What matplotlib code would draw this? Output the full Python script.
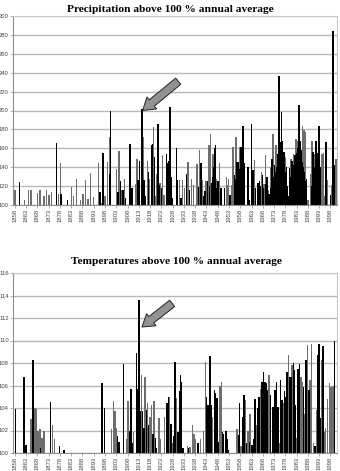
import matplotlib
matplotlib.use("Agg")
import matplotlib.pyplot as plt
import numpy as np

# ---------------- data ----------------
tick_years = list(range(1858, 1999, 5))

precip_gray_t = [1858.0, 1862.4, 1864.1, 1865.1, 1868.0, 1869.2, 1871.0, 1872.0, 1873.2, 1874.2,
                 1877.3, 1878.2, 1883.1, 1884.1, 1885.3, 1887.1, 1888.3, 1889.3, 1890.5, 1891.5,
                 1893.0, 1895.2, 1896.4, 1898.0, 1899.2, 1899.9, 1903.0, 1904.2, 1905.3, 1906.7,
                 1911.6, 1912.2, 1914.1, 1914.9, 1916.8, 1917.8, 1919.4, 1920.3, 1920.8, 1922.4,
                 1923.4, 1924.2, 1931.0, 1932.3, 1933.3, 1934.8, 1936.4, 1937.3, 1938.8, 1940.0,
                 1941.2, 1942.9, 1944.1, 1944.7, 1945.9, 1947.4, 1948.8, 1951.8, 1952.4, 1952.8,
                 1954.0, 1954.7, 1956.1, 1957.7, 1964.3, 1967.3, 1968.5, 1969.2, 1970.4, 1971.3,
                 1972.5, 1973.8, 1977.9, 1979.0, 1980.4, 1981.6, 1982.8, 1983.4, 1985.6, 1986.2,
                 1986.8, 1988.1, 1989.2, 1989.8, 1990.9, 1993.6, 1994.2, 1994.8, 1995.5, 1996.8,
                 1998.6, 2000.5]
precip_gray_v = [116, 105, 116, 116, 113, 116, 109, 116, 111, 114,
                 112, 144, 119, 110, 127, 105, 112, 126, 106, 134,
                 108, 144, 102, 110, 146, 172, 138, 157, 116, 128,
                 122, 149, 147, 172, 147, 128, 183, 109, 133, 123,
                 153, 111, 126, 126, 118, 146, 128, 121, 143, 158,
                 126, 125, 163, 175, 154, 128, 144, 130, 121, 128,
                 121, 161, 172, 161, 148, 135, 122, 153, 116, 140,
                 175, 163, 151, 111, 149, 154, 170, 168, 184, 179,
                 177, 105, 133, 168, 154, 123, 154, 155, 109, 126,
                 121, 149]

precip_dark_t = [1860.2, 1876.5, 1878.5, 1881.3, 1895.7, 1897.1, 1900.1, 1900.5, 1903.8, 1904.8,
                 1906.0, 1907.2, 1909.0, 1910.0, 1912.7, 1913.4, 1914.4, 1915.3, 1915.8, 1917.2,
                 1918.6, 1919.0, 1919.9, 1921.5, 1922.0, 1923.0, 1925.2, 1925.6, 1926.2, 1926.8,
                 1927.3, 1927.7, 1929.6, 1930.2, 1931.7, 1934.1, 1935.5, 1939.5, 1940.6, 1941.8,
                 1942.3, 1943.5, 1944.4, 1945.3, 1945.6, 1946.2, 1946.5, 1946.9, 1947.6, 1948.1,
                 1949.4, 1951.0, 1953.4, 1955.5, 1955.9, 1956.5, 1956.8, 1957.1, 1957.4, 1958.3,
                 1958.6, 1958.9, 1959.3, 1959.6, 1959.9, 1961.4, 1961.8, 1963.0, 1963.6, 1964.8,
                 1965.8, 1966.0, 1966.5, 1967.0, 1967.9, 1968.2, 1969.5, 1969.8, 1970.8, 1971.7,
                 1972.0, 1972.8, 1973.2, 1973.5, 1974.0, 1974.4, 1974.8, 1975.1, 1975.4, 1975.7,
                 1976.0, 1976.2, 1976.5, 1976.8, 1977.0, 1977.3, 1977.6, 1978.0, 1978.4, 1978.8,
                 1979.4, 1979.9, 1980.1, 1980.7, 1981.0, 1981.3, 1981.9, 1982.2, 1982.5, 1983.1,
                 1983.7, 1984.0, 1984.4, 1984.7, 1985.0, 1985.3, 1985.9, 1986.5, 1987.0, 1987.4,
                 1989.5, 1990.3, 1990.6, 1991.0, 1991.5, 1991.8, 1992.1, 1992.4, 1992.6, 1993.0,
                 1993.3, 1996.1, 1998.0, 1999.1, 1999.2, 1999.8]
precip_dark_v = [124, 166, 112, 105, 114, 155, 133, 200, 114, 125,
                 116, 107, 165, 118, 126, 147, 202, 126, 110, 135,
                 163, 165, 151, 186, 121, 118, 154, 144, 147, 204,
                 130, 107, 160, 126, 107, 133, 116, 119, 144, 110,
                 115, 125, 120, 123, 130, 140, 160, 163, 118, 125,
                 118, 118, 111, 132, 128, 146, 140, 146, 138, 161,
                 150, 168, 184, 130, 144, 140, 105, 186, 137, 118,
                 123, 115, 125, 120, 132, 118, 122, 130, 112, 118,
                 149, 130, 142, 135, 140, 154, 150, 236, 155, 167,
                 150, 198, 145, 168, 148, 156, 140, 135, 140, 120,
                 110, 139, 130, 135, 147, 140, 142, 153, 150, 155,
                 160, 206, 168, 150, 158, 145, 140, 135, 125, 128,
                 120, 156, 140, 135, 168, 150, 149, 155, 182, 184,
                 140, 167, 111, 142, 284, 142]

temp_gray_t = [1865.1, 1866.9, 1867.6, 1868.3, 1869.1, 1870.1, 1871.0, 1874.7, 1875.7, 1900.8,
               1901.7, 1902.5, 1903.0, 1907.8, 1908.2, 1910.7, 1914.1, 1915.8, 1916.9, 1918.0,
               1918.6, 1919.7, 1921.9, 1922.5, 1924.5, 1926.7, 1927.9, 1929.8, 1934.5, 1935.7,
               1936.7, 1937.5, 1938.2, 1940.3, 1941.6, 1942.5, 1945.7, 1949.0, 1949.6, 1956.5,
               1958.4, 1960.2, 1961.4, 1962.4, 1965.1, 1966.9, 1970.7, 1971.9, 1973.1, 1975.3,
               1977.0, 1979.3, 1980.9, 1983.1, 1984.9, 1985.5, 1986.7, 1987.8, 1989.0, 1989.6,
               1990.5, 1991.7, 1994.1, 1995.3, 1995.8, 1996.8, 1997.6, 1998.3, 1999.1]
temp_gray_v = [103.0, 104.0, 103.9, 102.0, 102.1, 101.3, 102.0, 102.5, 101.2, 102.1,
               104.6, 103.7, 102.2, 101.2, 104.6, 101.9, 106.9, 106.8, 104.4, 103.2,
               104.3, 104.6, 103.1, 101.2, 103.2, 105.0, 100.9, 104.9, 100.6, 100.5,
               102.5, 101.7, 101.2, 101.2, 102.0, 108.1, 103.2, 106.0, 106.3, 102.1,
               100.6, 104.7, 102.0, 103.5, 102.5, 105.7, 106.9, 100.1, 104.3, 100.9,
               104.4, 108.7, 107.8, 101.3, 106.8, 106.3, 103.5, 109.6, 106.5, 109.7,
               100.9, 103.8, 108.3, 101.9, 102.2, 104.8, 106.2, 105.9, 106.0]

temp_dark_t = [1858.3, 1862.0, 1862.9, 1866.0, 1869.5, 1873.8, 1877.9, 1879.9, 1896.7, 1897.9,
               1903.5, 1904.2, 1906.2, 1909.0, 1909.6, 1910.1, 1911.9, 1912.4, 1912.8, 1913.1,
               1913.7, 1914.6, 1915.2, 1916.3, 1917.4, 1919.2, 1920.3, 1920.9, 1925.2, 1925.6,
               1926.1, 1927.3, 1928.5, 1929.0, 1930.4, 1931.0, 1931.6, 1932.0, 1932.6, 1935.1,
               1939.2, 1943.1, 1943.7, 1944.6, 1945.1, 1946.5, 1947.1, 1947.7, 1948.1, 1950.2,
               1950.6, 1951.6, 1952.2, 1952.8, 1957.1, 1957.7, 1959.0, 1959.6, 1960.8, 1962.0,
               1963.2, 1963.9, 1964.5, 1965.7, 1966.3, 1967.3, 1967.7, 1968.3, 1968.9, 1969.5,
               1970.1, 1971.3, 1972.5, 1973.5, 1974.1, 1974.7, 1975.9, 1976.5, 1977.6, 1978.2,
               1978.7, 1979.9, 1980.4, 1981.5, 1981.9, 1982.5, 1983.7, 1984.3, 1986.1, 1987.2,
               1988.4, 1991.1, 1992.3, 1992.9, 1993.5, 1994.7, 1999.8]
temp_dark_v = [103.9, 106.8, 100.7, 108.3, 100.4, 104.5, 100.6, 100.3, 106.2, 104.0,
               101.5, 101.0, 107.9, 102.0, 105.7, 100.9, 108.9, 105.7, 102.5, 113.6,
               103.7, 103.7, 102.2, 103.8, 102.5, 101.7, 101.3, 100.4, 103.8, 104.4,
               105.0, 102.6, 101.5, 108.1, 101.9, 105.5, 106.9, 106.3, 100.4, 100.4,
               100.9, 105.0, 104.3, 108.6, 104.3, 105.6, 105.3, 104.9, 101.0, 101.9,
               101.7, 102.0, 101.2, 100.3, 101.6, 104.4, 103.2, 105.2, 100.9, 101.0,
               100.7, 101.2, 104.8, 104.0, 105.0, 105.9, 106.3, 107.2, 106.3, 106.2,
               105.6, 105.2, 104.1, 105.6, 106.3, 104.1, 106.5, 104.7, 105.5, 105.0,
               107.2, 106.8, 106.8, 108.0, 107.4, 104.3, 107.5, 107.9, 105.9, 108.3,
               105.6, 100.6, 108.7, 109.7, 103.1, 109.5, 110.0]

precip_arrow = dict(tip=(1914.7, 200), tail=(1930.5, 231))
temp_arrow = dict(tip=(1914.4, 111.2), tail=(1927.8, 113.3))

# ---------------- drawing ----------------
W, H = 340, 471
fig = plt.figure(figsize=(W / 100, H / 100), dpi=100)
fig.patch.set_facecolor("white")

DARK = "#000000"
GRAY = "#6e6e6e"
GRID = "#b8b8b8"
BW = 0.65


def setup(ax, ylo, yhi, ystep):
    ax.set_xlim(1857.2, 2000.9)
    ax.set_ylim(ylo, yhi)
    ax.set_yticks(np.arange(ylo, yhi + 0.01, ystep))
    ax.set_xticks(tick_years)
    ax.set_xticklabels([str(y) for y in tick_years], rotation=90,
                       fontsize=4.2, color="#444444", family="Liberation Sans")
    for lab in ax.get_yticklabels():
        lab.set_fontsize(4.2)
        lab.set_color("#444444")
        lab.set_family("Liberation Sans")
    ax.yaxis.grid(True, color=GRID, lw=1.0)
    ax.set_axisbelow(True)
    for s in ax.spines.values():
        s.set_color("#c8c8c8")
        s.set_linewidth(0.8)
    ax.spines["left"].set_color("#909090")
    ax.spines["bottom"].set_color("#909090")
    ax.tick_params(axis="both", length=2, width=0.5, color="#909090", pad=1)


def draw(ax, gt, gv, dt, dv, base):
    ax.bar(gt, np.array(gv) - base, bottom=base, width=BW, color=GRAY, linewidth=0, align="center")
    ax.bar(dt, np.array(dv) - base, bottom=base, width=BW, color=DARK, linewidth=0, align="center")


def arrow(ax, spec):
    ax.annotate("", xy=spec["tip"], xytext=spec["tail"],
                arrowprops=dict(arrowstyle="simple,head_width=1.1,head_length=0.85,tail_width=0.58",
                                fc="#929292", ec="#222222", lw=0.7, mutation_scale=10,
                                shrinkA=0, shrinkB=0), zorder=5)


ax1 = fig.add_axes([13 / W, 1 - 205 / H, 324 / W, 189 / H])
setup(ax1, 100, 300, 20)
draw(ax1, precip_gray_t, precip_gray_v, precip_dark_t, precip_dark_v, 100)
arrow(ax1, precip_arrow)

ax2 = fig.add_axes([13 / W, 1 - 453 / H, 324 / W, 180 / H])
setup(ax2, 100, 116, 2)
draw(ax2, temp_gray_t, temp_gray_v, temp_dark_t, temp_dark_v, 100)
arrow(ax2, temp_arrow)

fig.text(170 / W, 1 - 9 / H, "Precipitation above 100 % annual average", ha="center", va="center",
         fontsize=8.2, fontweight="bold", family="Liberation Serif")
fig.text(176 / W, 1 - 262 / H, "Temperatures above 100 % annual average", ha="center", va="center",
         fontsize=8.2, fontweight="bold", family="Liberation Serif")

fig.savefig("out.png", dpi=100)
